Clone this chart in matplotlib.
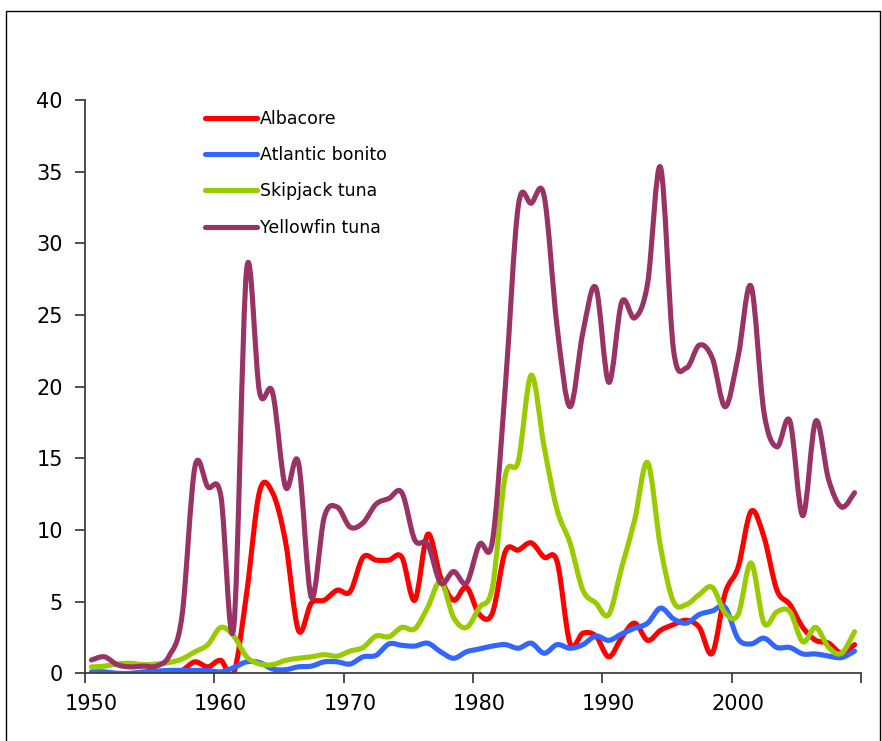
import numpy as np
import matplotlib
matplotlib.use("Agg")
import matplotlib.pyplot as plt
from matplotlib.path import Path
from matplotlib.patches import PathPatch, Rectangle
from matplotlib.lines import Line2D

years = np.arange(1950, 2010)

albacore = [np.nan, np.nan, np.nan, np.nan, np.nan, np.nan,
            0.0, 0.2, 0.8, 0.45, 0.9, 0.0, 5.6, 12.7, 12.6, 9.2, 3.0, 4.9, 5.1, 5.8,
            5.7, 8.1, 7.9, 7.9, 8.1, 5.1, 9.7, 6.7, 5.1, 6.0,
            4.1, 4.2, 8.5, 8.6, 9.1, 8.1, 7.8, 2.1, 2.8, 2.6,
            1.15, 2.5, 3.5, 2.3, 3.0, 3.4, 3.7, 3.2, 1.4, 5.6,
            7.4, 11.3, 9.5, 5.8, 4.8, 3.2, 2.3, 2.1, 1.4, 2.0]

atlantic_bonito = [0.1, 0.1, 0.0, 0.0, 0.1, 0.15, 0.2, 0.2, 0.2, 0.2,
                   0.1, 0.4, 0.8, 0.75, 0.3, 0.25, 0.45, 0.5, 0.8, 0.8,
                   0.65, 1.15, 1.25, 2.05, 1.95, 1.9, 2.1, 1.5, 1.05, 1.5,
                   1.7, 1.9, 2.0, 1.75, 2.1, 1.4, 2.0, 1.75, 2.0, 2.6,
                   2.3, 2.75, 3.15, 3.5, 4.55, 3.8, 3.5, 4.1, 4.35, 4.6,
                   2.4, 2.05, 2.45, 1.8, 1.8, 1.35, 1.35, 1.2, 1.1, 1.55]

skipjack = [0.45, 0.5, 0.65, 0.7, 0.6, 0.65, 0.75, 1.0, 1.5, 2.0,
            3.2, 2.6, 1.15, 0.65, 0.6, 0.9, 1.05, 1.15, 1.3, 1.2,
            1.55, 1.8, 2.6, 2.55, 3.2, 3.1, 4.6, 6.4, 3.9, 3.2,
            4.6, 6.0, 13.8, 14.8, 20.8, 15.8, 11.4, 9.1, 5.8, 4.9,
            4.1, 7.4, 10.7, 14.7, 8.8, 5.0, 4.8, 5.5, 6.0, 4.2,
            4.1, 7.7, 3.5, 4.3, 4.3, 2.2, 3.2, 1.8, 1.4, 2.9]

yellowfin = [0.93, 1.15, 0.6, 0.45, 0.5, 0.5, 1.2, 4.0, 14.4, 13.0,
             12.4, 3.2, 28.2, 19.6, 19.6, 13.0, 14.7, 5.3, 10.9, 11.6,
             10.2, 10.5, 11.8, 12.2, 12.6, 9.3, 9.0, 6.3, 7.1, 6.3,
             9.0, 9.2, 20.0, 32.6, 32.8, 33.3, 24.2, 18.6, 23.8, 26.9,
             20.3, 25.9, 24.8, 27.2, 35.3, 22.6, 21.3, 22.9, 22.0, 18.6,
             22.1, 27.0, 18.2, 15.8, 17.6, 11.0, 17.6, 13.5, 11.6, 12.6]

series = [
    ("Albacore", albacore, "#FF0000"),
    ("Atlantic bonito", atlantic_bonito, "#3366FF"),
    ("Skipjack tuna", skipjack, "#99CC00"),
    ("Yellowfin tuna", yellowfin, "#993366"),
]


def smooth_path(x, y):
    # Bezier path through the points, like a spreadsheet "smoothed line"
    pts = np.column_stack([x, y])
    verts = [pts[0]]
    codes = [Path.MOVETO]
    n = len(pts)
    for i in range(n - 1):
        p0 = pts[max(i - 1, 0)]
        p1 = pts[i]
        p2 = pts[i + 1]
        p3 = pts[min(i + 2, n - 1)]
        verts += [p1 + (p2 - p0) / 6, p2 - (p3 - p1) / 6, p2]
        codes += [Path.CURVE4] * 3
    return Path(verts, codes)


fig = plt.figure(figsize=(8.82, 7.41), dpi=100)
fig.patches.append(Rectangle((6 / 882, -0.01), 874 / 882, 1 - 11 / 741 + 0.01,
                             transform=fig.transFigure, fill=False,
                             edgecolor="black", linewidth=1.0))

ax = fig.add_axes([85 / 882, (741 - 673.3) / 741, 776 / 882, 573.3 / 741])

xs = years + 0.5
for name, vals, color in series:
    vals = np.asarray(vals, dtype=float)
    ok = ~np.isnan(vals)
    patch = PathPatch(smooth_path(xs[ok], vals[ok]), fill=False,
                      edgecolor=color, linewidth=3.7, capstyle="round",
                      joinstyle="round")
    ax.add_patch(patch)

ax.set_xlim(1950, 2010)
ax.set_ylim(0, 40)

spine_c = "#404040"
for s in ["top", "right"]:
    ax.spines[s].set_visible(False)
for s in ["left", "bottom"]:
    ax.spines[s].set_color(spine_c)
    ax.spines[s].set_linewidth(1.3)

ax.set_yticks(range(0, 41, 5))
ax.tick_params(axis="y", direction="out", length=7, width=1.3, color=spine_c,
               labelsize=15, pad=9)
ax.set_xticks(range(1950, 2011, 10))
ax.set_xticklabels([])
ax.tick_params(axis="x", which="major", direction="out", length=7, width=1.3,
               color=spine_c)
ax.set_xticks([y + 0.5 for y in range(1950, 2001, 10)], minor=True)
ax.set_xticklabels([str(y) for y in range(1950, 2001, 10)], minor=True)
ax.tick_params(axis="x", which="minor", length=0, labelsize=15, pad=15)

handles = [Line2D([], [], color=c, linewidth=3.7, solid_capstyle="round")
           for _, _, c in series]
ax.legend(handles, [n for n, _, _ in series], loc="upper left",
          bbox_to_anchor=(0.135, 1.01), frameon=False, fontsize=12.5,
          handlelength=3.0, handletextpad=0.15, labelspacing=1.05)

fig.savefig("out.png", dpi=100)
